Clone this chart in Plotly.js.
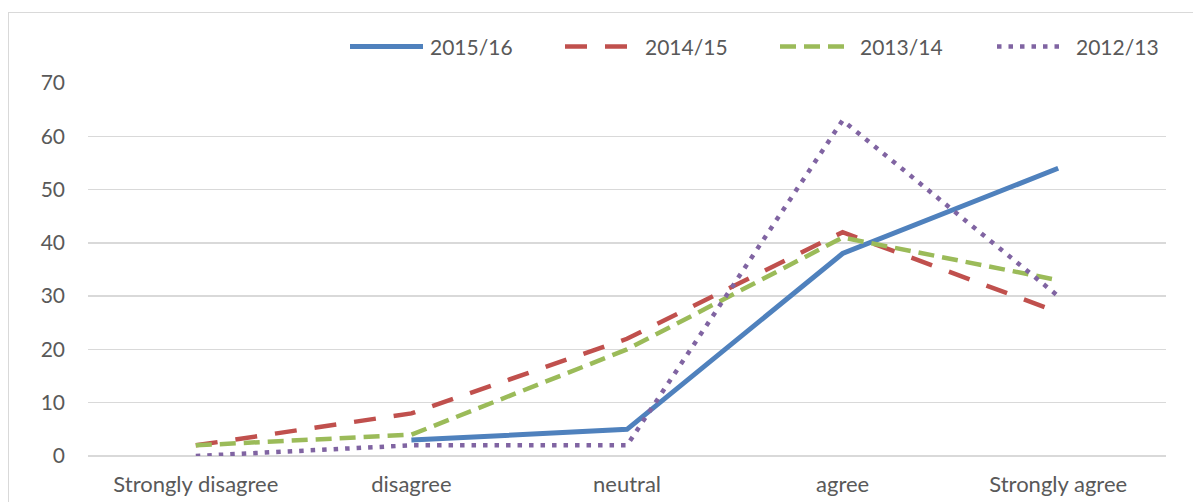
<!DOCTYPE html>
<html>
<head>
<meta charset="utf-8">
<script src="https://cdn.plot.ly/plotly-3.0.1.min.js"></script>
<style>
  html, body { margin: 0; padding: 0; background: #fff; overflow: hidden; }
  #chart { width: 1193px; height: 502px; position: absolute; left: 0; top: 0; }
  #frame { position: absolute; left: 8px; top: 12px; width: 1220px; height: 520px;
           border: 1.5px solid #d9d9d9; pointer-events: none; }
</style>
</head>
<body>
<div id="chart"></div>
<div id="frame"></div>
<script>
// ---- data ----
const categories = ["Strongly disagree", "disagree", "neutral", "agree", "Strongly agree"];
const seriesNames = ["2015/16", "2014/15", "2013/14", "2012/13"];
const values2015_16 = [null, 3, 5, 38, 54];
const values2014_15 = [2, 8, 22, 42, 27];
const values2013_14 = [2, 4, 20, 41, 33];
const values2012_13 = [0, 2, 2, 63, 30];
const yTickValues = [0, 10, 20, 30, 40, 50, 60, 70];

// ---- styles ----
const colors = ["#4f81bd", "#c0504d", "#9bbb59", "#8064a2"];
const widths = [5, 4.5, 4.5, 4.5];
const dashes = ["solid", "22px,18px", "16px,8px", "4.5px,7px"];
const seriesValues = [values2015_16, values2014_15, values2013_14, values2012_13];

const FONT = "Lato, 'Open Sans', sans-serif";
const TXT = "#595959";

const traces = seriesValues.map((vals, i) => ({
  type: "scatter",
  mode: "lines",
  name: seriesNames[i],
  x: categories,
  y: vals,
  connectgaps: false,
  showlegend: false,
  line: { color: colors[i], width: widths[i], dash: dashes[i], shape: "linear" },
  hoverinfo: "x+y+name"
}));

// plot area in pixels
const W = 1193, H = 502;
const L = 88, R = 1166, T = 83, B = 456;
const px2x = p => (p - L) / (R - L);
const py2y = p => (B - p) / (B - T);

// custom legend (sample line + label)
const legendY = 46.5;
const legendSamples = [[350, 423], [565, 628], [780, 845], [997, 1060]];
const legendText = [428, 643, 858, 1074];
const shapes = [];
const annotations = [];
seriesNames.forEach((n, i) => {
  shapes.push({
    type: "line", xref: "paper", yref: "paper",
    x0: px2x(legendSamples[i][0]), x1: px2x(legendSamples[i][1]),
    y0: py2y(legendY), y1: py2y(legendY),
    line: { color: colors[i], width: widths[i], dash: dashes[i] }
  });
  annotations.push({
    xref: "paper", yref: "paper",
    x: px2x(legendText[i]), y: py2y(legendY),
    xanchor: "left", yanchor: "middle",
    text: n, showarrow: false,
    font: { family: FONT, size: 21, color: TXT }
  });
});

const layout = {
  width: W, height: H,
  margin: { l: L, r: W - R, t: T, b: H - B, pad: 0 },
  paper_bgcolor: "rgba(0,0,0,0)",
  plot_bgcolor: "rgba(0,0,0,0)",
  showlegend: false,
  font: { family: FONT, size: 21, color: TXT },
  xaxis: {
    type: "category",
    range: [-0.5, categories.length - 0.5],
    showgrid: false, zeroline: false, showline: false,
    ticks: "", ticklabelstandoff: 13,
    tickfont: { family: FONT, size: 22, color: TXT },
    fixedrange: true
  },
  yaxis: {
    range: [0, 70],
    tickvals: yTickValues,
    ticktext: yTickValues.map(String),
    showgrid: true, gridcolor: "#d9d9d9", gridwidth: 1.5,
    zeroline: true, zerolinecolor: "#d9d9d9", zerolinewidth: 1.5,
    showline: false, ticks: "", ticklabelstandoff: 22,
    tickfont: { family: FONT, size: 21, color: TXT },
    fixedrange: true
  },
  shapes: shapes,
  annotations: annotations
};

Plotly.newPlot("chart", traces, layout, { displayModeBar: false, staticPlot: true });
</script>
</body>
</html>
